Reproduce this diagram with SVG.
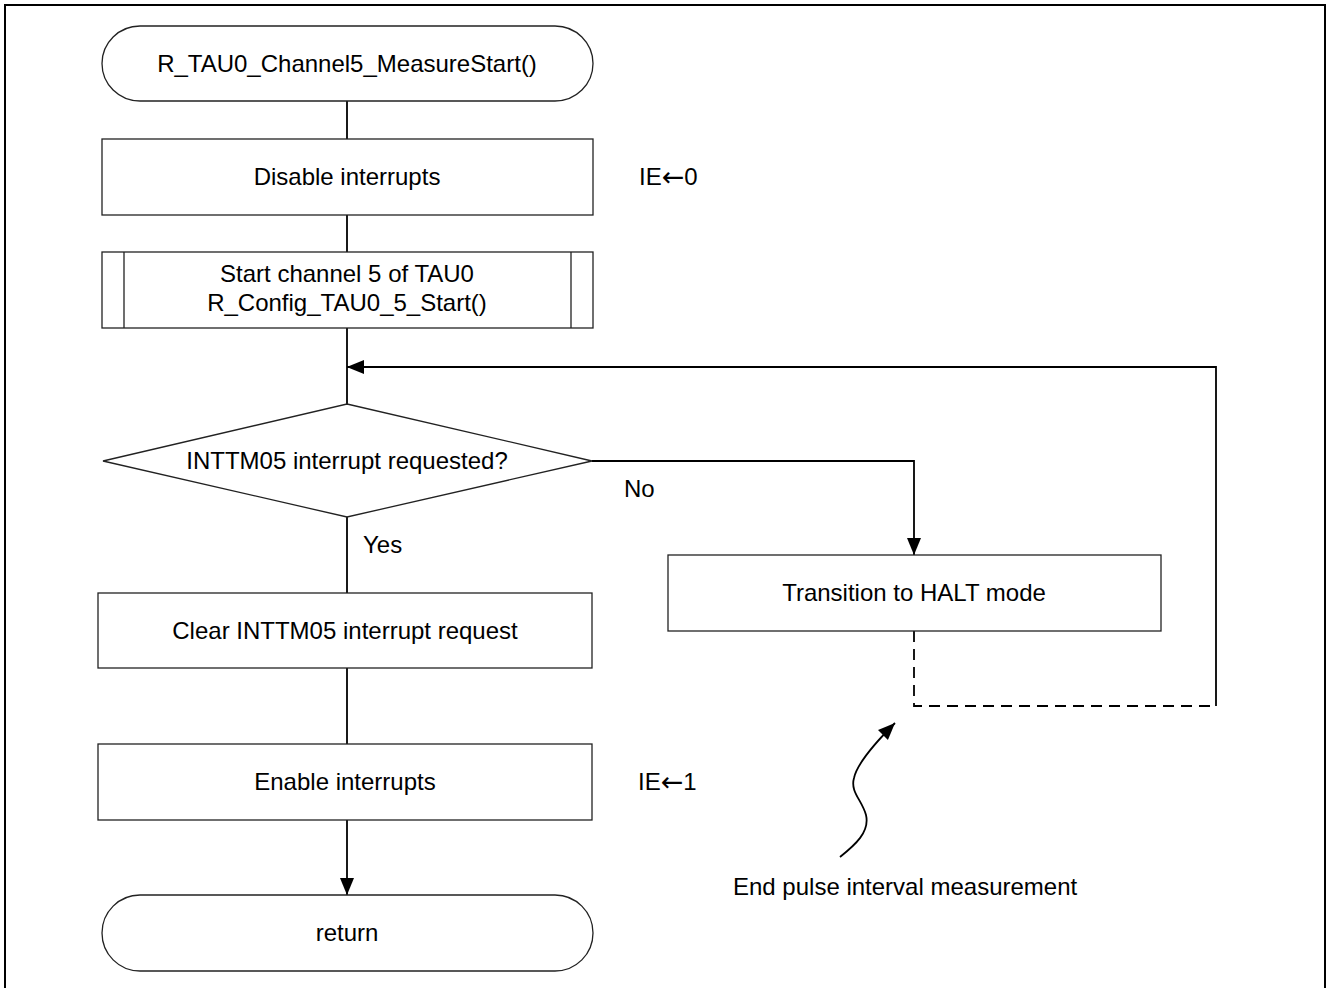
<svg xmlns="http://www.w3.org/2000/svg" width="1328" height="988" viewBox="0 0 1328 988">
<style>
.box{fill:#fff;stroke:#222;stroke-width:1.3}
.t{font-family:"Liberation Sans",Arial,sans-serif;font-size:24px;fill:#000}
.c{text-anchor:middle}
.arr{font-family:"DejaVu Sans",sans-serif;font-size:27px}
.ln{fill:none;stroke:#000;stroke-width:1.8}
.dash{fill:none;stroke:#000;stroke-width:1.8;stroke-dasharray:11 7}
</style>
<defs>
<marker id="ah" markerWidth="16" markerHeight="16" refX="17" refY="8" orient="auto" markerUnits="userSpaceOnUse"><path d="M0,1 L17,8 L0,15 z" fill="#000"/></marker>
</defs>
<rect x="5" y="5" width="1320" height="1010" fill="#fff" stroke="#000" stroke-width="2"/>
<g id="connectors">
<path class="ln" d="M347,101 V139"/>
<path class="ln" d="M347,215 V252"/>
<path class="ln" d="M347,328 V404"/>
<path class="ln" d="M347,517 V593"/>
<path class="ln" d="M347,668 V744"/>
<path class="ln" d="M347,820 V895" marker-end="url(#ah)"/>
<path class="ln" d="M592,461 H914 V555" marker-end="url(#ah)"/>
<path class="dash" d="M914,631 V706 H1216"/>
<path class="ln" d="M1216,706 V367 H347" marker-end="url(#ah)"/>
<path class="ln" d="M840,857 C855,845 870,832 866,815 C862,800 850,792 854,778 C857,764 874,744 895,723" marker-end="url(#ah)"/>
</g>
<g id="start">
<rect class="box" x="102" y="26" width="491" height="75" rx="38" ry="38"/>
<text class="t c" x="347" y="72">R_TAU0_Channel5_MeasureStart()</text>
</g>
<g id="disable">
<rect class="box" x="102" y="139" width="491" height="76"/>
<text class="t c" x="347" y="185">Disable interrupts</text>
</g>
<text id="ie0" class="t" x="639" y="185">IE<tspan class="arr" dy="1">←</tspan><tspan dy="-1">0</tspan></text>
<g id="startch">
<rect class="box" x="102" y="252" width="491" height="76"/>
<path class="box" d="M124,252 V328 M571,252 V328"/>
<text class="t c" x="347" y="282">Start channel 5 of TAU0</text>
<text class="t c" x="347" y="311">R_Config_TAU0_5_Start()</text>
</g>
<g id="decision">
<path class="box" d="M347,404 L592,461 L347,517 L103,461 Z"/>
<text class="t c" x="347" y="469">INTTM05 interrupt requested?</text>
</g>
<text id="no" class="t" x="624" y="497">No</text>
<text id="yes" class="t" x="363" y="553">Yes</text>
<g id="clear">
<rect class="box" x="98" y="593" width="494" height="75"/>
<text class="t c" x="345" y="639">Clear INTTM05 interrupt request</text>
</g>
<g id="halt">
<rect class="box" x="668" y="555" width="493" height="76"/>
<text class="t c" x="914" y="601">Transition to HALT mode</text>
</g>
<g id="enable">
<rect class="box" x="98" y="744" width="494" height="76"/>
<text class="t c" x="345" y="790">Enable interrupts</text>
</g>
<text id="ie1" class="t" x="638" y="790">IE<tspan class="arr" dy="1">←</tspan><tspan dy="-1">1</tspan></text>
<g id="return">
<rect class="box" x="102" y="895" width="491" height="76" rx="38" ry="38"/>
<text class="t c" x="347" y="941">return</text>
</g>
<text id="note" class="t" x="733" y="895">End pulse interval measurement</text>
</svg>
